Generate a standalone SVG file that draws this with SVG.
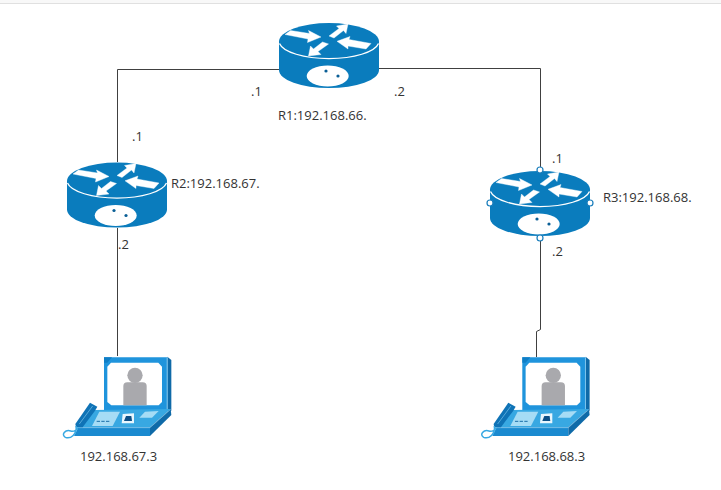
<svg xmlns="http://www.w3.org/2000/svg" width="721" height="490" viewBox="0 0 721 490">
<style>
text{font-family:"Open Sans","Noto Sans","Liberation Sans",sans-serif;font-size:13px;fill:#333}
.wire{fill:none;stroke:#404040;stroke-width:1}
.h{fill:#fff;stroke:#1a7ebc;stroke-width:1.200}
.rb{fill:#0a7cbd}
.w{fill:#fff}
.a{fill:#fff;stroke:#fff;stroke-width:0.400;stroke-linejoin:miter}
</style>
<defs>
<g id="router">
<path class="rb" d="M0 18.500A50 18.500 0 0 1 100 18.500V47A50 18 0 0 1 0 47Z"/>
<path d="M0.500 20.500A50 17.500 0 0 0 99.500 20.500" fill="none" stroke="#fff" stroke-width="1.300"/>
<ellipse class="w" cx="48.700" cy="53" rx="21" ry="10.500"/>
<circle cx="47" cy="48" r="1.600" fill="#0a5f96"/>
<circle cx="59" cy="53" r="1.600" fill="#0a5f96"/>
<polygon class="a" points="6,11.500 11.500,7.500 30.500,10.500 29.500,7.500 42,14 28.500,19.500 29,16"/>
<polygon class="a" points="50,13 55,15 64.500,7.500 67,10.500 69,1 57.500,3 60,5.500"/>
<polygon class="a" points="58,18.300 71,13.500 70,16.500 92,20.500 87,26 69,23 69,26"/>
<polygon class="a" points="29.500,33 42,31.500 39,28.500 49.500,21 43.500,19 34.500,26 31.500,23"/>
</g>
<g id="phone" transform="scale(0.33333)">
<polygon points="162,52 352,52 352,212 162,212" fill="#1f94dc"/>
<polygon points="352,50 364,60 364,212 352,212" fill="#0f6aa8"/>
<rect x="350" y="52" width="3" height="158" fill="#7cc4ec"/>
<polygon points="162,52 186,52 172,68 162,68" fill="#0f7ec6"/>
<polygon points="183,68 325,68 336,80 336,186 326,196 184,196 172,186 172,80" fill="#fff"/>
<circle cx="255" cy="106" r="23" fill="#a9a9ad"/>
<path d="M220 196V138Q220 128 232 127H278Q290 128 290 138V196Z" fill="#a9a9ad"/>
<polygon points="130,210 362,207 300,262 85,262" fill="#38a8e2"/>
<polygon points="85,262 300,262 300,288 72,288" fill="#1a8ad0"/>
<polygon points="300,262 362,207 364,225 300,288" fill="#0f6aa8"/>
<path d="M85 263H300L362 208" fill="none" stroke="#a6dcf5" stroke-width="1.500"/>
<polygon points="76,252 120,188 142,200 135,212 98,262 78,262" fill="#0f73b6"/>
<path d="M88 252L128 198" stroke="#7cc4ec" stroke-width="2" fill="none"/>
<path d="M78 258C82 282 62 298 46 292C32 284 46 268 62 273C72 276 84 268 82 262" fill="none" stroke="#38a8e2" stroke-width="4.500"/>
<polygon points="148,215 210,215 188,258 126,258" fill="#a6dcf5"/>
<path d="M140 244H182" stroke="#1a6ea8" stroke-width="3" stroke-dasharray="10 4" fill="none"/>
<polygon points="218,222 252,220 252,250 215,250" fill="#e8f6fd"/>
<polygon points="228,228 244,228 246,243 222,243" fill="#0c4f86"/>
<polygon points="285,215 326,213 306,233 268,233" fill="#a6dcf5"/>
</g>
</defs>
<rect width="721" height="3" fill="#f8f8f8"/>
<rect y="3" width="721" height="1" fill="#e0e0e0"/>
<g id="connectors">
<path class="wire" d="M279 69.500H117.500V162"/>
<path class="wire" d="M379 68.500H540.500V171"/>
<path class="wire" d="M117.500 228V356"/>
<path class="wire" d="M540.500 238V329.500L536.500 331.500V357"/>
</g>
<g id="R1"><use href="#router" transform="translate(279,23)"/><text x="278" y="120">R1:192.168.66.</text></g>
<g id="R2"><use href="#router" transform="translate(67,162.500)"/><text x="171" y="188">R2:192.168.67.</text></g>
<g id="R3"><use href="#router" transform="translate(490,171)"/><text x="603" y="202">R3:192.168.68.</text>
<circle class="h" cx="540" cy="170" r="3"/><circle class="h" cx="490" cy="203" r="3"/><circle class="h" cx="590" cy="203" r="3"/><circle class="h" cx="540" cy="238" r="3"/></g>
<g id="PC1"><use href="#phone" transform="translate(50,340)"/><text x="80" y="461">192.168.67.3</text></g>
<g id="PC2"><use href="#phone" transform="translate(468.300,340)"/><text x="508" y="461">192.168.68.3</text></g>
<g id="labels">
<text x="251" y="96">.1</text><text x="394" y="96">.2</text>
<text x="132" y="141">.1</text><text x="118" y="249">.2</text>
<text x="552" y="163">.1</text><text x="552" y="256">.2</text>
</g>
</svg>
